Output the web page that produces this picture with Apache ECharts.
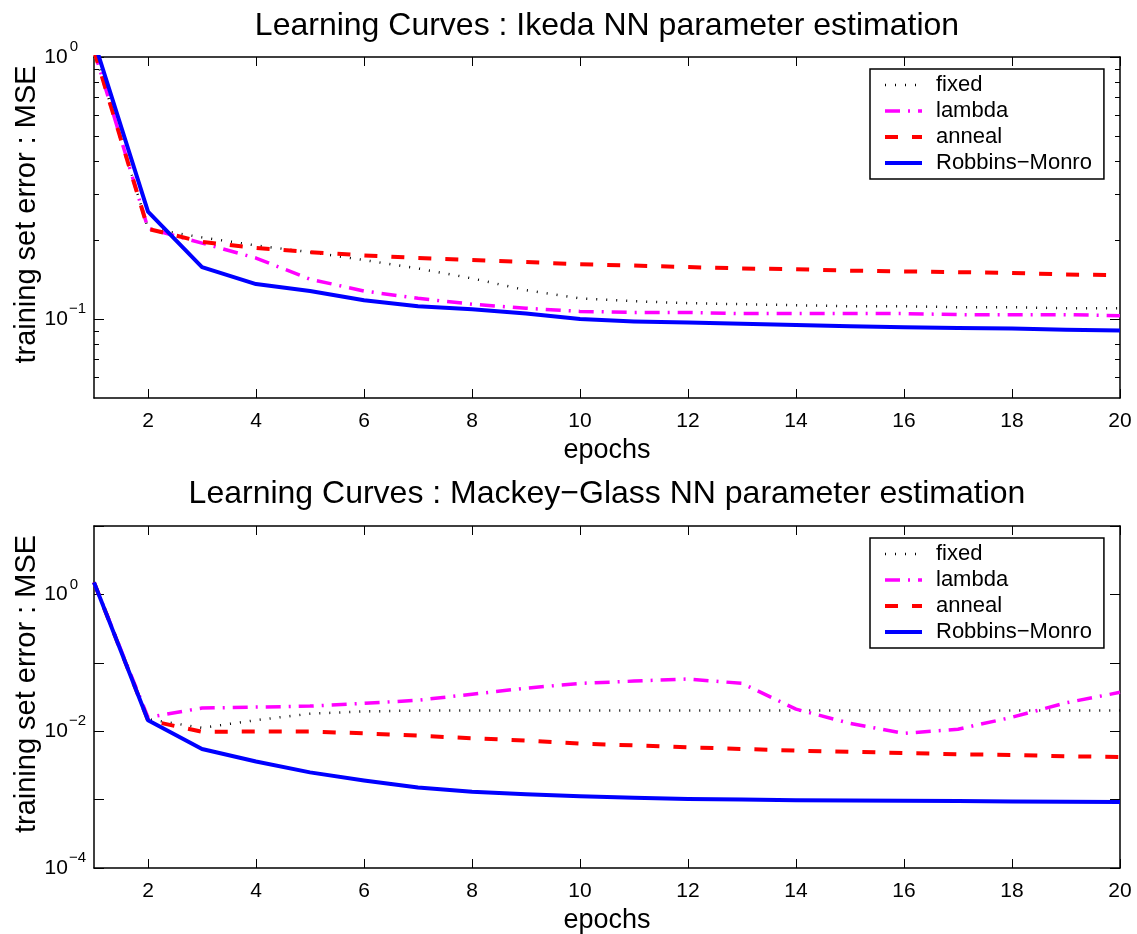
<!DOCTYPE html>
<html>
<head>
<meta charset="utf-8">
<title>Learning Curves</title>
<script src="https://cdn.jsdelivr.net/npm/echarts@6/dist/echarts.min.js"></script>
<style>
  html, body { margin: 0; padding: 0; background: #fff; }
  #chart { width: 1137px; height: 934px; }
</style>
</head>
<body>
<div id="chart"></div>
<script>
// Training epochs shared by both panels
const epochs = [1, 2, 3, 4, 5, 6, 7, 8, 9, 10, 11, 12, 13, 14, 15, 16, 17, 18, 19, 20];
const xTickValues = [2, 4, 6, 8, 10, 12, 14, 16, 18, 20];

// Ikeda map: training set MSE per epoch
const ikedaFixed  = [1.06, 0.222, 0.205, 0.191, 0.180, 0.168, 0.156, 0.143, 0.129, 0.120, 0.117, 0.115, 0.114, 0.113, 0.112, 0.112, 0.111, 0.111, 0.110, 0.110];
const ikedaLambda = [1.06, 0.222, 0.195, 0.171, 0.142, 0.128, 0.120, 0.114, 0.110, 0.107, 0.106, 0.106, 0.105, 0.105, 0.105, 0.105, 0.104, 0.104, 0.104, 0.103];
const ikedaAnneal = [1.06, 0.221, 0.197, 0.187, 0.180, 0.175, 0.171, 0.168, 0.165, 0.162, 0.160, 0.158, 0.156, 0.155, 0.153, 0.152, 0.151, 0.150, 0.148, 0.147];
const ikedaRM     = [1.15, 0.257, 0.158, 0.136, 0.128, 0.118, 0.112, 0.109, 0.105, 0.100, 0.098, 0.097, 0.096, 0.095, 0.094, 0.093, 0.0925, 0.092, 0.091, 0.0905];

// Mackey-Glass series: training set MSE per epoch
const mgFixed  = [1.5, 0.015, 0.0112, 0.0145, 0.018, 0.0195, 0.020, 0.020, 0.020, 0.020, 0.020, 0.020, 0.020, 0.020, 0.020, 0.020, 0.020, 0.020, 0.020, 0.020];
const mgLambda = [1.5, 0.0159, 0.0218, 0.0225, 0.0233, 0.0255, 0.0284, 0.0347, 0.0426, 0.050, 0.054, 0.058, 0.050, 0.021, 0.013, 0.0093, 0.0107, 0.016, 0.026, 0.037];
const mgAnneal = [1.5, 0.0145, 0.0098, 0.0099, 0.0099, 0.0093, 0.0086, 0.0079, 0.0073, 0.0066, 0.0062, 0.0058, 0.0055, 0.0052, 0.0050, 0.0048, 0.0046, 0.0045, 0.0043, 0.0042];
const mgRM     = [1.5, 0.0145, 0.0055, 0.0036, 0.0025, 0.0019, 0.0015, 0.0013, 0.0012, 0.00112, 0.00106, 0.00102, 0.00100, 0.00098, 0.00097, 0.00096, 0.00095, 0.00094, 0.00093, 0.00092];

// Log-axis tick values
const ikedaMajorTicks = [0.1, 1];
const ikedaMinorTicks = [0.06, 0.07, 0.08, 0.09, 0.2, 0.3, 0.4, 0.5, 0.6, 0.7, 0.8, 0.9];
const mgMajorTicks = [1e-4, 1e-3, 1e-2, 1e-1, 1, 10];
const mgLabelTicks = [1e-4, 1e-2, 1];

const seriesNames = ['fixed', 'lambda', 'anneal', 'Robbins\u2212Monro'];
const titles = [
  'Learning Curves : Ikeda NN parameter estimation',
  'Learning Curves : Mackey\u2212Glass NN parameter estimation'
];
const yName = 'training set error : MSE';
const xName = 'epochs';

const FONT = "'Liberation Sans', Arial, Helvetica, sans-serif";
const TICK_FONT = 21;
const NAME_FONT = 27;
const YNAME_FONT = 29;
const TITLE_FONT = 32;

const styles = [
  { color: '#000000', width: 2.5, type: [1, 9] },
  { color: '#ff00ff', width: 3.5, type: [15, 8, 2, 8] },
  { color: '#ff0000', width: 4, type: [13, 14] },
  { color: '#0000ff', width: 4, type: 'solid' }
];

function makeSeries(name, values, xIdx, yIdx, style) {
  return {
    name: name,
    type: 'line',
    xAxisIndex: xIdx,
    yAxisIndex: yIdx,
    data: epochs.map((e, i) => [e, values[i]]),
    symbol: 'none',
    showSymbol: false,
    silent: true,
    clip: true,
    lineStyle: Object.assign({ cap: 'butt', join: 'round' }, style),
    emphasis: { disabled: true }
  };
}

// "10" followed by a raised exponent; short exponents are padded so the
// base number lines up for every label
function powerLabel(v) {
  const e = Math.round(Math.log10(v));
  const txt = e < 0 ? '\u2212' + (-e) : String(e);
  return '{b|10}{' + (txt.length > 1 ? 's2' : 's1') + '|' + txt + '}';
}

const blackLine = { color: '#000', width: 1.5 };
const tickLine = { color: '#000', width: 1 };

function xAxes(gridIndex) {
  const common = {
    type: 'value', gridIndex: gridIndex, min: 1, max: 20,
    splitLine: { show: false },
    axisLine: { show: true, onZero: false, lineStyle: blackLine },
    axisTick: { show: true, inside: true, length: 9, customValues: xTickValues, lineStyle: tickLine }
  };
  return [
    Object.assign({}, common, {
      position: 'bottom',
      name: xName, nameLocation: 'middle', nameGap: 39, nameMoveOverlap: false,
      nameTextStyle: { fontSize: NAME_FONT, fontFamily: FONT, color: '#000' },
      axisLabel: { show: true, customValues: xTickValues, margin: 13, color: '#000', fontSize: TICK_FONT, fontFamily: FONT }
    }),
    Object.assign({}, common, { position: 'top', axisLabel: { show: false } })
  ];
}

function yAxis(gridIndex, position, min, max, ticks, len, labels, withLine, withName) {
  const ax = {
    type: 'log', logBase: 10, gridIndex: gridIndex, position: position, min: min, max: max,
    splitLine: { show: false },
    axisLine: { show: withLine, onZero: false, lineStyle: blackLine },
    axisTick: { show: true, inside: true, length: len, customValues: ticks, lineStyle: tickLine },
    axisLabel: { show: false }
  };
  if (labels) {
    const sup = { fontSize: 15, fontFamily: FONT, color: '#000', lineHeight: 15 };
    ax.axisLabel = {
      show: true, customValues: labels, margin: 8, formatter: powerLabel,
      rich: {
        b: { fontSize: TICK_FONT, fontFamily: FONT, color: '#000', lineHeight: 22 },
        s1: Object.assign({ padding: [0, 8, 20, 2] }, sup),
        s2: Object.assign({ padding: [0, 0, 20, 1] }, sup)
      }
    };
  }
  if (withName) {
    ax.name = yName;
    ax.nameLocation = 'middle';
    ax.nameGap = 53;
    ax.nameMoveOverlap = false;
    // left padding lifts the rotated label a little above the axis centre
    ax.nameTextStyle = { fontSize: YNAME_FONT, fontFamily: FONT, color: '#000', padding: [0, 0, 0, 26] };
  }
  return ax;
}

function legendFor(top) {
  return {
    orient: 'vertical', left: 870, top: top,
    data: seriesNames,
    itemWidth: 37, itemHeight: 12, itemGap: 4,
    padding: [5, 12, 5, 13],
    borderColor: '#000', borderWidth: 1.5, backgroundColor: '#fff',
    selectedMode: false,
    lineStyle: { width: 'inherit' },
    itemStyle: { opacity: 0 },
    textStyle: { fontSize: 22, lineHeight: 22, fontFamily: FONT, color: '#000', padding: [0, 0, 0, 9] }
  };
}

const chart = echarts.init(document.getElementById('chart'), null, { renderer: 'canvas' });

chart.setOption({
  animation: false,
  backgroundColor: '#fff',
  title: [
    { text: titles[0], left: 607, top: 10, textAlign: 'center', padding: 0,
      textStyle: { fontSize: TITLE_FONT, fontWeight: 'normal', fontFamily: FONT, color: '#000' } },
    { text: titles[1], left: 607, top: 478, textAlign: 'center', padding: 0,
      textStyle: { fontSize: TITLE_FONT, fontWeight: 'normal', fontFamily: FONT, color: '#000' } }
  ],
  legend: [legendFor(69), legendFor(538)],
  grid: [
    { left: 94, top: 57, width: 1026, height: 341, containLabel: false, outerBoundsMode: 'none' },
    { left: 94, top: 526, width: 1026, height: 342, containLabel: false, outerBoundsMode: 'none' }
  ],
  xAxis: [].concat(xAxes(0), xAxes(1)),
  yAxis: [
    yAxis(0, 'left', 0.05, 1, ikedaMajorTicks, 10, ikedaMajorTicks, true, true),
    yAxis(0, 'right', 0.05, 1, ikedaMajorTicks, 10, null, true, false),
    yAxis(0, 'left', 0.05, 1, ikedaMinorTicks, 5, null, false, false),
    yAxis(0, 'right', 0.05, 1, ikedaMinorTicks, 5, null, false, false),
    yAxis(1, 'left', 1e-4, 10, mgMajorTicks, 10, mgLabelTicks, true, true),
    yAxis(1, 'right', 1e-4, 10, mgMajorTicks, 10, null, true, false)
  ],
  series: [
    makeSeries(seriesNames[0], ikedaFixed, 0, 0, styles[0]),
    makeSeries(seriesNames[1], ikedaLambda, 0, 0, styles[1]),
    makeSeries(seriesNames[2], ikedaAnneal, 0, 0, styles[2]),
    makeSeries(seriesNames[3], ikedaRM, 0, 0, styles[3]),
    makeSeries(seriesNames[0], mgFixed, 2, 4, styles[0]),
    makeSeries(seriesNames[1], mgLambda, 2, 4, styles[1]),
    makeSeries(seriesNames[2], mgAnneal, 2, 4, styles[2]),
    makeSeries(seriesNames[3], mgRM, 2, 4, styles[3])
  ]
});
</script>
</body>
</html>
